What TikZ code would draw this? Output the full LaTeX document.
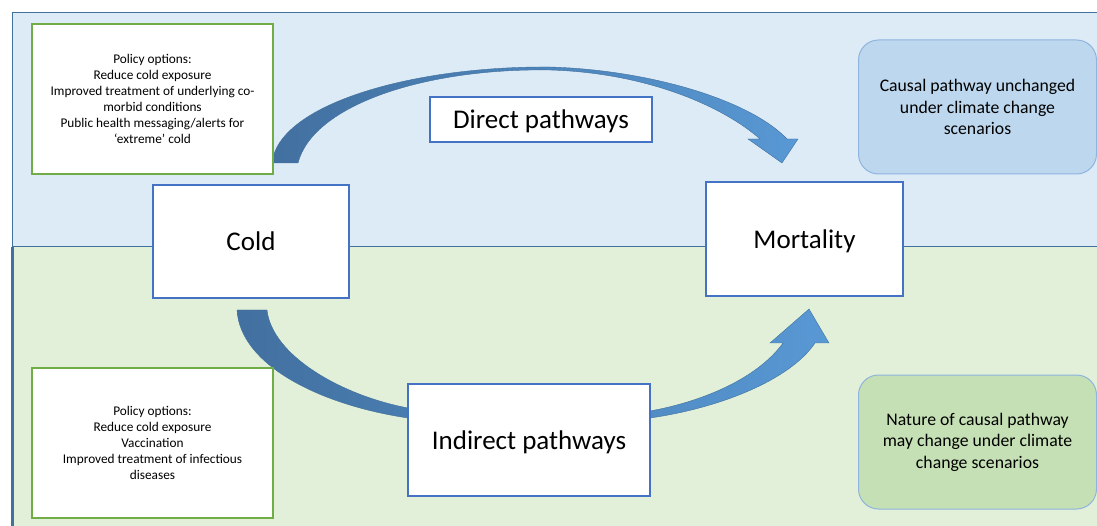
\documentclass[tikz,border=0pt]{standalone}
\usepackage{fontspec}
\setmainfont{Carlito}
\definecolor{toppanel}{RGB}{221,235,247}
\definecolor{botpanel}{RGB}{226,240,217}
\definecolor{panelline}{RGB}{65,113,156}
\definecolor{boxblue}{RGB}{68,114,196}
\definecolor{boxgreen}{RGB}{112,173,71}
\definecolor{unchfill}{RGB}{189,215,238}
\definecolor{natfill}{RGB}{197,224,180}
\definecolor{softline}{RGB}{143,180,222}
\definecolor{arrdark}{RGB}{66,112,160}
\definecolor{arrlight}{RGB}{88,152,212}
\tikzset{
  mainbox/.style={draw=boxblue, line width=1.3pt, fill=white, inner sep=0pt, outer sep=0pt,
    text depth=0pt, font=\fontsize{27}{32}\selectfont},
  policybox/.style={draw=boxgreen, line width=1.2pt, fill=white, inner sep=0pt, outer sep=0pt,
    minimum width=241pt, minimum height=150pt, align=center, font=\fontsize{13.3}{16}\selectfont},
  notebox/.style={draw=softline, line width=1pt, rounded corners=20pt, inner sep=0pt, outer sep=0pt,
    minimum width=238pt, minimum height=134pt, align=center, font=\fontsize{17.7}{21.5}\selectfont},
  bandarrow/.style={left color=arrdark, right color=arrlight, draw=panelline, line width=0.4pt}
}
\begin{document}
\begin{tikzpicture}[x=1pt,y=-1pt]
\useasboundingbox (0,0) rectangle (1097,526);
\clip (0,0) rectangle (1097,526);
\fill[white] (0,0) rectangle (1097,526);
% panels
\fill[toppanel] (12,13) rectangle (1110,247);
\fill[botpanel] (12,247) rectangle (1110,540);
\draw[panelline, line width=1pt] (1110,13) -- (12,13) -- (12,247);
\draw[panelline, line width=1pt] (12,247) -- (1110,247);
\draw[panelline, line width=3pt] (12.5,247) -- (12.5,540);
% curved arrows
\coordinate (dA) at (272,163);
\coordinate (dB) at (298,163);
\coordinate (dTip) at (782,163);
\path[bandarrow] (dA) .. controls (278,105) and (410,66) .. (550,67)
  .. controls (650,70) and (750,100) .. (787,139) -- (798,139) -- (dTip) -- (748,139) -- (760,139)
  .. controls (725,108) and (650,73) .. (550,70)
  .. controls (425,68) and (313,105) .. (dB) -- cycle;
\coordinate (iA) at (237,310);
\coordinate (iB) at (267,310);
\coordinate (iTip) at (809,309);
\path[bandarrow] (iA) .. controls (240,365) and (320,405) .. (408,418) -- (650,418)
  .. controls (720,408) and (790,380) .. (815,343) -- (829,343) -- (iTip) -- (770,343) -- (783,343)
  .. controls (760,375) and (710,400) .. (650,411) -- (408,408)
  .. controls (340,395) and (272,355) .. (iB) -- cycle;
% boxes
\node[policybox] (pol1) at (152.5,99) {Policy options:\\Reduce cold exposure\\Improved treatment of underlying co-\\morbid conditions\\Public health messaging/alerts for\\‘extreme’ cold};
\node[policybox] (pol2) at (152.5,443) {Policy options:\\Reduce cold exposure\\Vaccination\\Improved treatment of infectious\\diseases};
\node[mainbox, minimum width=196pt, minimum height=113pt] (cold) at (251,241.5) {Cold};
\node[mainbox, minimum width=197pt, minimum height=114pt] (mort) at (804.5,239) {Mortality};
\node[mainbox, minimum width=222pt, minimum height=45pt] (direct) at (541,119.5) {Direct pathways};
\node[mainbox, minimum width=242pt, minimum height=112pt] (indirect) at (529,440) {Indirect pathways};
\node[notebox, fill=unchfill] (unch) at (977.5,107) {Causal pathway unchanged\\under climate change\\scenarios};
\node[notebox, fill=natfill] (nat) at (977.5,442) {Nature of causal pathway\\may change under climate\\change scenarios};
\end{tikzpicture}
\end{document}
